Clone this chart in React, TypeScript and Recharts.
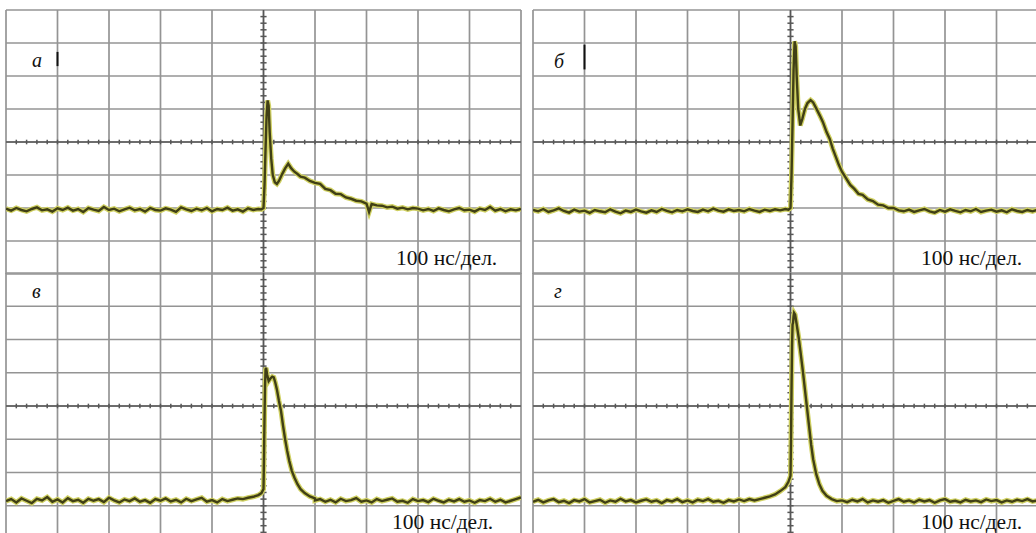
import React from "react";
import { LineChart, Line, XAxis, YAxis, CartesianGrid, ReferenceLine } from "recharts";

// time axis: 100 ns per division, 10 divisions; level axis: 8 divisions
const timeTicks = [-500, -400, -300, -200, -100, 0, 100, 200, 300, 400, 500];
const levelTicks = [-4, -3, -2, -1, 0, 1, 2, 3, 4];
const levelTicksTop = [-4, -3, -2, -1, 0, 1, 2, 3];
const minorTimes = [
  -480, -460, -440, -420, -400, -380, -360, -340, -320, -300, -280, -260, -240, -220, -200,
  -180, -160, -140, -120, -100, -80, -60, -40, -20, 20, 40, 60, 80, 100, 120, 140, 160, 180,
  200, 220, 240, 260, 280, 300, 320, 340, 360, 380, 400, 420, 440, 460, 480,
];
const minorLevels = [
  -3.8, -3.6, -3.4, -3.2, -3, -2.8, -2.6, -2.4, -2.2, -2, -1.8, -1.6, -1.4, -1.2, -1, -0.8, -0.6,
  -0.4, -0.2, 0.2, 0.4, 0.6, 0.8, 1, 1.2, 1.4, 1.6, 1.8, 2, 2.2, 2.4, 2.6, 2.8, 3, 3.2, 3.4, 3.6, 3.8,
];

// baseline before the pulse, t = -500 ... -10 ns, step 10 ns
const preA = [
  -2.02, -2.08, -2.0, -2.06, -2.1, -2.03, -1.98, -2.07, -2.04, -2.11,
  -2.01, -2.06, -1.99, -2.08, -2.03, -2.12, -2.0, -2.05, -2.09, -1.97,
  -2.06, -2.02, -2.1, -2.04, -1.99, -2.07, -2.03, -2.11, -2.0, -2.06,
  -2.08, -2.01, -2.05, -2.12, -1.98, -2.04, -2.09, -2.02, -2.07, -2.0,
  -2.1, -2.03, -2.06, -1.99, -2.08, -2.04, -2.11, -2.01, -2.06, -2.03,
];
const preB = [
  -2.06, -2.1, -2.03, -2.12, -2.07, -2.01, -2.09, -2.14, -2.05, -2.11,
  -2.08, -2.15, -2.06, -2.1, -2.13, -2.04, -2.11, -2.16, -2.08, -2.12,
  -2.05, -2.1, -2.14, -2.07, -2.12, -2.03, -2.09, -2.13, -2.06, -2.1,
  -2.04, -2.09, -2.12, -2.05, -2.1, -2.02, -2.08, -2.11, -2.04, -2.09,
  -2.06, -2.1, -2.03, -2.08, -2.12, -2.05, -2.09, -2.04, -2.07, -2.03,
];
const preV = [
  -2.86, -2.8, -2.9, -2.78, -2.85, -2.92, -2.79, -2.84, -2.74, -2.88,
  -2.81, -2.9, -2.77, -2.86, -2.82, -2.91, -2.79, -2.85, -2.8, -2.89,
  -2.76, -2.84, -2.9, -2.81, -2.86, -2.78, -2.88, -2.83, -2.91, -2.8,
  -2.85, -2.78, -2.87, -2.82, -2.9, -2.79, -2.86, -2.81, -2.76, -2.88,
  -2.83, -2.9, -2.8, -2.86, -2.82, -2.78, -2.8, -2.76, -2.73, -2.68,
];
const preG = [
  -2.88, -2.82, -2.9, -2.84, -2.8, -2.89, -2.85, -2.92, -2.83, -2.87,
  -2.8, -2.9, -2.86, -2.82, -2.91, -2.84, -2.88, -2.79, -2.87, -2.83,
  -2.9, -2.85, -2.81, -2.88, -2.84, -2.92, -2.83, -2.87, -2.8, -2.89,
  -2.84, -2.9, -2.82, -2.86, -2.8, -2.88, -2.85, -2.91, -2.83, -2.87,
  -2.81, -2.86, -2.8, -2.84, -2.8, -2.76, -2.72, -2.66, -2.56, -2.44,
];

// pulse region: [time ns, level div]
const pulseA: [number, number][] = [
  [-4, -2.04], [0, -2.0], [2, -1.3], [4, -0.2], [6, 0.8], [8, 1.26], [10, 1.1], [12, 0.3],
  [15, -0.5], [18, -1.0], [22, -1.22], [26, -1.27], [30, -1.18], [36, -0.98], [42, -0.8],
  [48, -0.66], [54, -0.8], [60, -0.9], [66, -0.97], [72, -1.05], [80, -1.08], [90, -1.18],
  [100, -1.24], [110, -1.27], [120, -1.42], [130, -1.46], [140, -1.57], [150, -1.58],
  [160, -1.68], [170, -1.72], [180, -1.78], [190, -1.8], [200, -1.87], [205, -2.12], [210, -1.88],
  [220, -1.92], [230, -1.93], [240, -1.98], [250, -1.96], [260, -2.02], [270, -1.99], [280, -2.04],
  [290, -2.0],
];
const pulseB: [number, number][] = [
  [-4, -2.05], [0, -2.0], [2, -1.0], [4, 0.6], [6, 2.2], [8, 3.05], [10, 2.9], [12, 2.0],
  [15, 1.0], [19, 0.5], [23, 0.7], [28, 1.0], [33, 1.18], [39, 1.27], [44, 1.2], [50, 1.02],
  [57, 0.8], [63, 0.6], [70, 0.3], [76, 0.1], [82, -0.2], [88, -0.45], [94, -0.7], [100, -0.9],
  [108, -1.1], [116, -1.3], [124, -1.42], [132, -1.57], [140, -1.6], [150, -1.74], [160, -1.79],
  [170, -1.9], [180, -1.92], [190, -2.0], [200, -2.0], [210, -2.07],
];
const pulseV: [number, number][] = [
  [-4, -2.62], [0, -2.5], [1, -1.5], [2, -0.3], [3, 0.6], [4, 1.1], [5, 1.15], [7, 0.95],
  [10, 0.75], [13, 0.82], [17, 0.88], [20, 0.86], [23, 0.7], [26, 0.5], [30, 0.15], [34, -0.15],
  [38, -0.6], [42, -1.0], [46, -1.35], [50, -1.65], [55, -1.95], [60, -2.15], [66, -2.35],
  [72, -2.5], [80, -2.62], [90, -2.72], [100, -2.78],
];
const pulseG: [number, number][] = [
  [-4, -2.28], [0, -2.1], [1, -1.0], [2, 0.5], [3, 1.8], [4, 2.45], [5, 2.5], [6, 2.7],
  [7, 2.8], [9, 2.75], [12, 2.45], [16, 2.05], [20, 1.55], [24, 1.05], [28, 0.5], [32, -0.05],
  [36, -0.6], [40, -1.15], [44, -1.6], [50, -2.05], [56, -2.35], [62, -2.55], [70, -2.7],
  [80, -2.8], [90, -2.86],
];

// baseline after the pulse, step 10 ns, up to 500 ns
const postA = [
  -2.02, -2.07, -2.03, -2.09, -2.01, -2.06, -2.1, -2.04, -2.0, -2.07, -2.05,
  -2.11, -2.02, -2.06, -1.97, -2.08, -2.03, -2.1, -2.04, -2.07, -2.03,
];
const postB = [
  -2.1, -2.05, -2.12, -2.07, -2.03, -2.1, -2.14, -2.06, -2.11, -2.04, -2.09, -2.13, -2.06,
  -2.1, -2.03, -2.12, -2.08, -2.05, -2.11, -2.07, -2.13, -2.04, -2.09, -2.12, -2.06, -2.1,
  -2.05, -2.11, -2.08,
];
const postV = [
  -2.84, -2.8, -2.88, -2.82, -2.9, -2.79, -2.86, -2.83, -2.77, -2.88, -2.84, -2.9, -2.8,
  -2.86, -2.82, -2.78, -2.88, -2.85, -2.91, -2.8, -2.86, -2.83, -2.89, -2.79, -2.85, -2.9,
  -2.82, -2.87, -2.8, -2.88, -2.84, -2.91, -2.83, -2.86, -2.79, -2.88, -2.82, -2.9, -2.85,
  -2.8, -2.75,
];
const postG = [
  -2.84, -2.89, -2.82, -2.87, -2.8, -2.9, -2.84, -2.88, -2.83, -2.91, -2.85, -2.8, -2.88,
  -2.84, -2.9, -2.82, -2.87, -2.83, -2.91, -2.84, -2.8, -2.88, -2.85, -2.9, -2.82, -2.87,
  -2.84, -2.89, -2.81, -2.86, -2.83, -2.9, -2.84, -2.88, -2.82, -2.86, -2.8, -2.87, -2.84,
  -2.89, -2.83,
];

const buildTrace = (pre: number[], pulse: [number, number][], post: number[]) => {
  const rows: { t: number; v: number }[] = [];
  pre.forEach((v, i) => rows.push({ t: -500 + i * 10, v }));
  pulse.forEach(([t, v]) => rows.push({ t, v }));
  const start = 500 - (post.length - 1) * 10;
  post.forEach((v, i) => rows.push({ t: start + i * 10, v }));
  return rows;
};

const PAD = 4;
const TRACE_LIGHT = "#cfd062";
const TRACE_DARK = "#403f15";
const GRID = "#949494";
const AXIS = "#575757";

function Scope(props: {
  data: { t: number; v: number }[];
  left: number;
  top: number;
  width: number;
  height: number;
  levels: number[];
  marker?: [number, number];
}) {
  const { data, left, top, width, height, levels, marker } = props;
  return (
    <div style={{ position: "absolute", left: left - PAD, top: top - PAD }}>
      <LineChart
        width={width + PAD * 2}
        height={height + PAD * 2}
        data={data}
        margin={{ top: PAD, right: PAD, bottom: PAD, left: PAD }}
      >
        <XAxis dataKey="t" type="number" domain={[-500, 500]} ticks={timeTicks} hide allowDataOverflow />
        <YAxis type="number" domain={[-4, 4]} ticks={levels} hide allowDataOverflow />
        <CartesianGrid stroke={GRID} strokeWidth={1.7} />
        <ReferenceLine x={0} stroke={AXIS} strokeWidth={1.5} />
        <ReferenceLine y={0} stroke={AXIS} strokeWidth={1.5} />
        {minorTimes.map((t) => (
          <ReferenceLine
            key={"mt" + t}
            segment={[{ x: t, y: -0.07 }, { x: t, y: 0.07 }]}
            stroke={AXIS}
            strokeWidth={1.5}
          />
        ))}
        {minorLevels.map((v) => (
          <ReferenceLine
            key={"ml" + v}
            segment={[{ x: -6, y: v }, { x: 6, y: v }]}
            stroke={AXIS}
            strokeWidth={1.5}
          />
        ))}
        {marker && (
          <ReferenceLine
            segment={[{ x: -400, y: marker[0] }, { x: -400, y: marker[1] }]}
            stroke="#111"
            strokeWidth={2}
          />
        )}
        <Line type="linear" dataKey="v" stroke={TRACE_LIGHT} strokeWidth={5} dot={false} isAnimationActive={false} />
        <Line type="linear" dataKey="v" stroke={TRACE_DARK} strokeWidth={2.4} dot={false} isAnimationActive={false} />
      </LineChart>
    </div>
  );
}

const textFont = "'Liberation Serif', 'Times New Roman', serif";

export default function App() {
  return (
    <div
      style={{
        position: "fixed",
        left: 0,
        top: 0,
        width: 1036,
        height: 533,
        overflow: "hidden",
        background: "#fff",
      }}
    >
      <Scope data={buildTrace(preA, pulseA, postA)} left={6} top={10} width={515} height={264} levels={levelTicksTop} marker={[2.3, 2.73]} />
      <Scope data={buildTrace(preB, pulseB, postB)} left={533} top={10} width={515} height={264} levels={levelTicksTop} marker={[2.2, 2.95]} />
      <Scope data={buildTrace(preV, pulseV, postV)} left={6} top={273} width={515} height={266} levels={levelTicks} />
      <Scope data={buildTrace(preG, pulseG, postG)} left={533} top={273} width={515} height={266} levels={levelTicks} />
      <svg
        width={1036}
        height={533}
        style={{ position: "absolute", left: 0, top: 0, pointerEvents: "none" }}
      >
        <g fontFamily={textFont} fill="#111">
          <text x={32} y={67} fontSize={20} fontStyle="italic">а</text>
          <text x={554} y={68} fontSize={20} fontStyle="italic">б</text>
          <text x={32} y={298} fontSize={20} fontStyle="italic">в</text>
          <text x={554} y={298} fontSize={20} fontStyle="italic">г</text>
          <text x={396} y={265} fontSize={21.5}>100 нс/дел.</text>
          <text x={921} y={265} fontSize={21.5}>100 нс/дел.</text>
          <text x={392} y={529} fontSize={21.5}>100 нс/дел.</text>
          <text x={921} y={529} fontSize={21.5}>100 нс/дел.</text>
        </g>
      </svg>
    </div>
  );
}
